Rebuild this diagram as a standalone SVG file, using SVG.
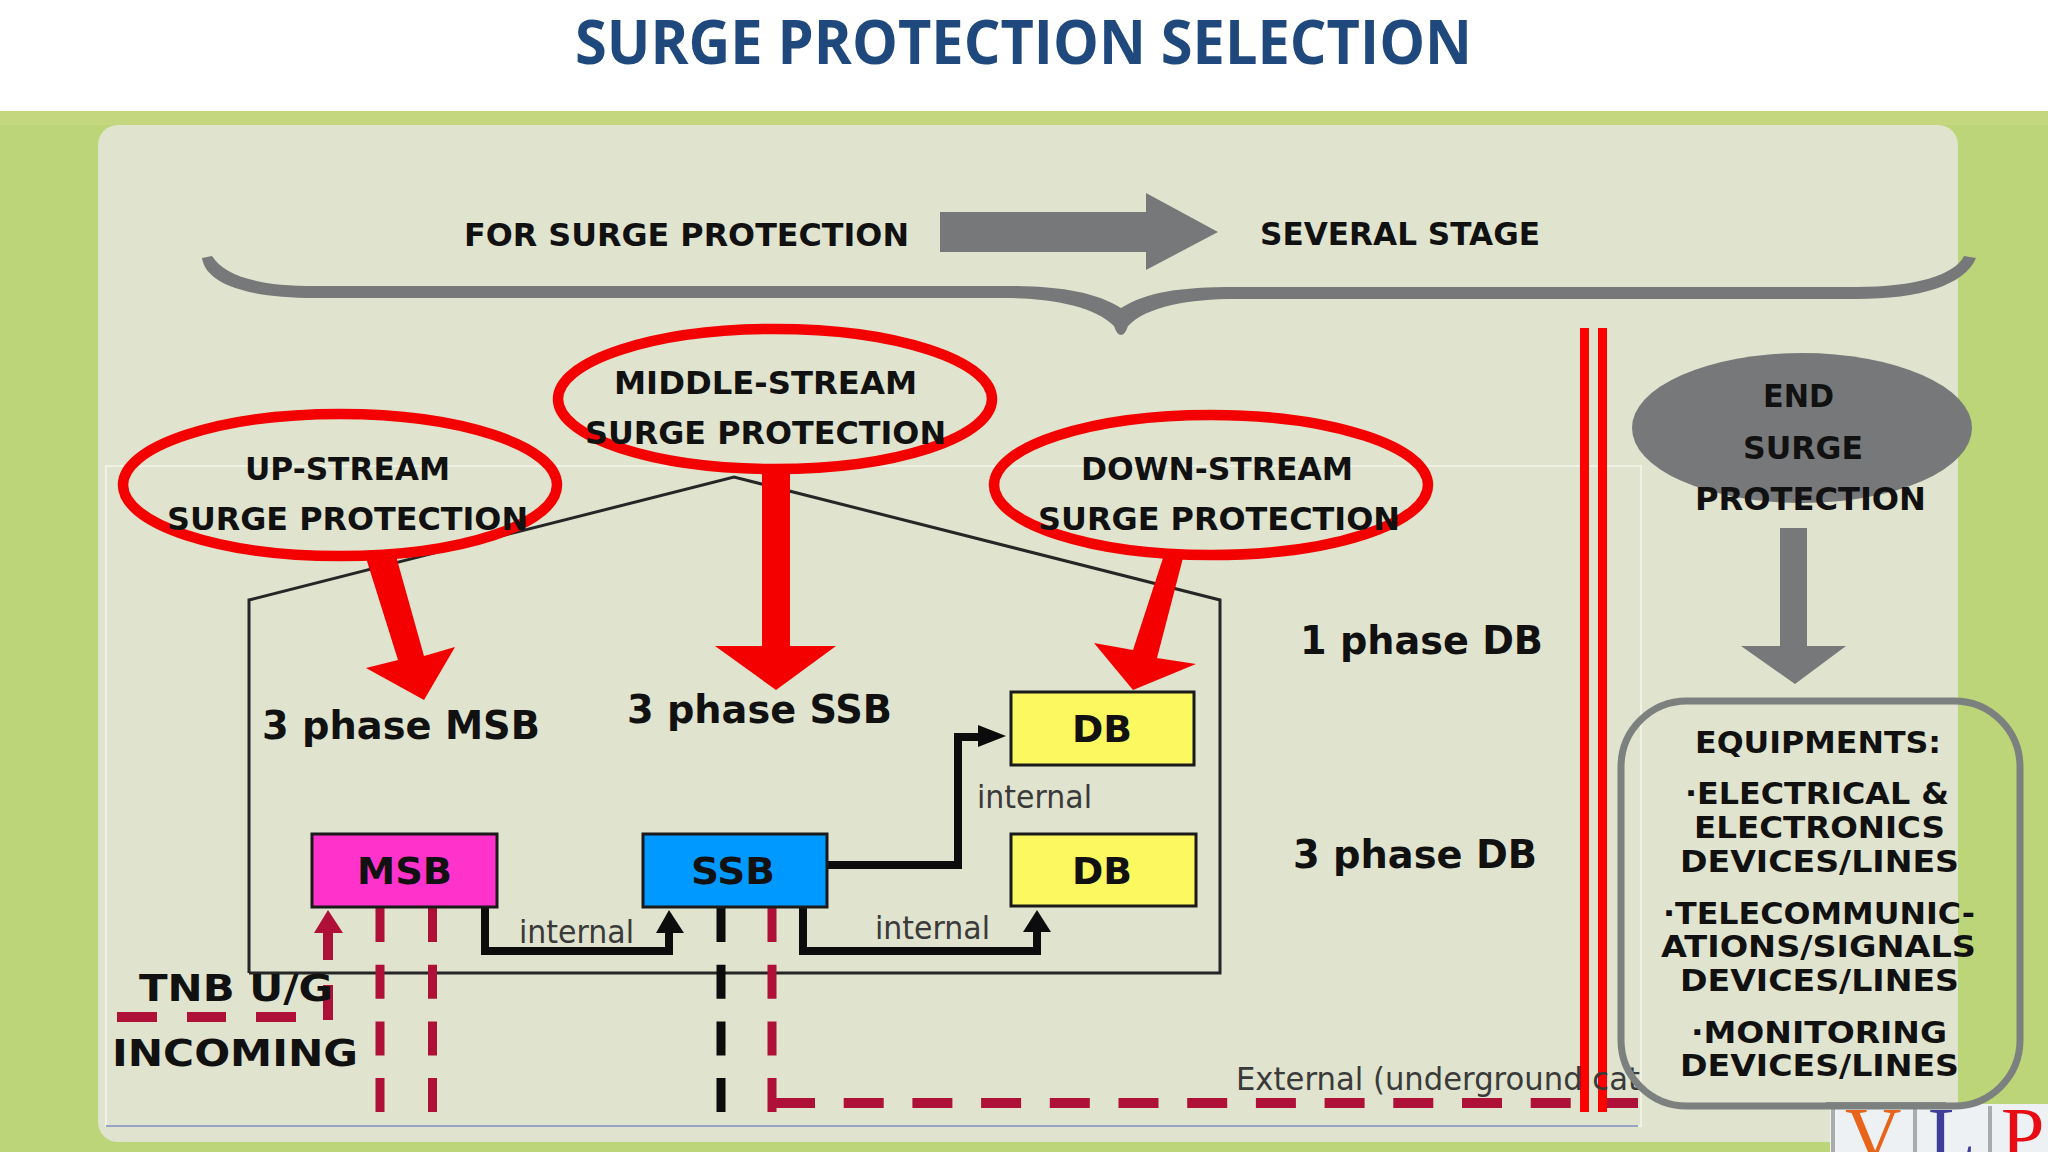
<svg xmlns="http://www.w3.org/2000/svg" width="2048" height="1152" viewBox="0 0 2048 1152">
<defs>
<style>
text{font-family:"DejaVu Sans","Liberation Sans",sans-serif;fill:#111}
.b{font-weight:700}
.h{font-size:32px}
.p{font-size:39px}
.n{font-size:37px}
.e{font-size:31px}
.i{font-size:32px;fill:#3a3a3a}
.ring{fill:none;stroke:#f40000;stroke-width:10.500}
.red{fill:#f40000}
.gray{fill:#77787a}
.box{stroke:#1a1a1a;stroke-width:3}
.red-dash{fill:none;stroke:#ae1038;stroke-width:10}
.blk-dash{fill:none;stroke:#0c0c0c;stroke-width:9}
.v{stroke-dasharray:34 22.7;stroke-width:9}
.hz{stroke-dasharray:40 28.7}
.wire{fill:none;stroke:#0c0c0c;stroke-width:8}
.logo{font-family:"Liberation Serif",serif;font-size:78px}
</style>
</defs>
<rect width="2048" height="1152" fill="#ffffff"/>
<rect y="111" width="2048" height="1041" fill="#bcd578"/>
<rect y="111" width="2048" height="14" fill="#c4d67e"/>
<rect x="98" y="125" width="1860" height="1017" rx="20" fill="#e0e3cd"/>
<rect x="106" y="466" width="1535" height="660" fill="none" stroke="#f1f2e6" stroke-width="2"/>
<line x1="106" y1="1126" x2="1638" y2="1126" stroke="#93a6c4" stroke-width="2"/>

<g id="title"><text x="575" y="64" font-size="60" textLength="897" lengthAdjust="spacingAndGlyphs" style="font-family:'Open Sans',sans-serif;font-weight:700;fill:#1f497d">SURGE PROTECTION SELECTION</text></g>

<g id="header">
<text class="b h" x="464" y="246" textLength="445" lengthAdjust="spacingAndGlyphs">FOR SURGE PROTECTION</text>
<polygon class="gray" points="940,212 1146,212 1146,193 1218,232 1146,270 1146,252 940,252"/>
<text class="b h" x="1260" y="245" textLength="280" lengthAdjust="spacingAndGlyphs">SEVERAL STAGE</text>
<path class="gray" d="M202 258 L212 256 C224 275 255 286 315 286 L1005 286 C1060 286 1095 292 1121 308 C1147 292 1180 287 1235 287 L1856 287 C1915 287 1955 275 1964 256 L1976 258 C1965 285 1920 299 1856 299 L1235 299 C1190 299 1147 306 1128 326 Q1125 335 1121 335 Q1117 335 1114 326 C1095 306 1050 298 1005 298 L315 298 C250 298 206 285 202 258 Z"/>
</g>

<g id="building"><polyline points="249,973 249,600 734,477 1220,600 1220,973 249,973" fill="none" stroke="#262626" stroke-width="3"/></g>

<g id="connectors">
<path class="wire" d="M485 908 V951 H669 V930"/>
<polygon fill="#0c0c0c" points="669,910 684,933 656,933"/>
<path class="wire" d="M803 908 V951 H1037 V930"/>
<polygon fill="#0c0c0c" points="1037,910 1051,932 1023,932"/>
<path class="wire" d="M827 865 H958 V737 H982"/>
<polygon fill="#0c0c0c" points="1006,736 978,725 978,747"/>
<path class="red-dash v" d="M380 908 V1112"/>
<path class="red-dash v" d="M432.500 908 V1112"/>
<path class="blk-dash v" d="M721 908 V1112"/>
<path class="red-dash v" d="M772 908 V1112"/>
<path class="red-dash hz" d="M775 1103 H1638"/>
<path class="red-dash" d="M117 1017 H157 M187 1017 H226 M256 1017 H296"/>
<path class="red-dash" d="M328 1020 V985 M328 960 V930"/>
<polygon fill="#ae1038" points="328,910 343,933 314,933"/>
<polygon class="red" points="366,558 396,556 424,656 455,647 424,700 366,668 398,660"/>
<polygon class="red" points="762,470 790,470 790,646 836,646 776,690 715,646 762,646"/>
<polygon class="red" points="1163,558 1183,558 1157,658 1196,664 1133,690 1094,643 1133,650"/>
<polygon class="gray" points="1780,528 1807,528 1807,646 1846,646 1795,684 1741,646 1780,646"/>
<rect x="1580" y="328" width="9" height="784" fill="#ff0000"/>
<rect x="1598" y="328" width="9" height="784" fill="#ff0000"/>
</g>

<g id="node-up-stream">
<ellipse class="ring" cx="340" cy="485" rx="217" ry="71"/>
<text class="b h" x="245" y="480" textLength="205" lengthAdjust="spacingAndGlyphs">UP-STREAM</text>
<text class="b h" x="167" y="530" textLength="361" lengthAdjust="spacingAndGlyphs">SURGE PROTECTION</text>
</g>
<g id="node-middle-stream">
<ellipse class="ring" cx="775" cy="399" rx="217" ry="70"/>
<text class="b h" x="614" y="394" textLength="303" lengthAdjust="spacingAndGlyphs">MIDDLE-STREAM</text>
<text class="b h" x="585" y="444" textLength="361" lengthAdjust="spacingAndGlyphs">SURGE PROTECTION</text>
</g>
<g id="node-down-stream">
<ellipse class="ring" cx="1211" cy="485" rx="217" ry="70"/>
<text class="b h" x="1081" y="480" textLength="272" lengthAdjust="spacingAndGlyphs">DOWN-STREAM</text>
<text class="b h" x="1038" y="530" textLength="362" lengthAdjust="spacingAndGlyphs">SURGE PROTECTION</text>
</g>

<g id="labels">
<text class="b p" x="262" y="739" textLength="278" lengthAdjust="spacingAndGlyphs">3 phase MSB</text>
<text class="b p" x="627" y="723" textLength="265" lengthAdjust="spacingAndGlyphs">3 phase SSB</text>
<text class="b p" x="1300" y="654" textLength="243" lengthAdjust="spacingAndGlyphs">1 phase DB</text>
<text class="b p" x="1293" y="868" textLength="244" lengthAdjust="spacingAndGlyphs">3 phase DB</text>
<text class="i" x="519" y="943" textLength="115" lengthAdjust="spacingAndGlyphs">internal</text>
<text class="i" x="875" y="939" textLength="115" lengthAdjust="spacingAndGlyphs">internal</text>
<text class="i" x="977" y="808" textLength="115" lengthAdjust="spacingAndGlyphs">internal</text>
<text class="i" x="1236" y="1090" textLength="404" lengthAdjust="spacingAndGlyphs">External (underground cat</text>
<text class="b n" x="139" y="1001" textLength="194" lengthAdjust="spacingAndGlyphs">TNB U/G</text>
<text class="b n" x="112" y="1066" textLength="246" lengthAdjust="spacingAndGlyphs">INCOMING</text>
</g>

<g id="node-msb"><rect class="box" x="312" y="834" width="185" height="73" fill="#ff33cc"/><text class="b n" x="357" y="884" textLength="95" lengthAdjust="spacingAndGlyphs">MSB</text></g>
<g id="node-ssb"><rect class="box" x="643" y="834" width="184" height="73" fill="#0099ff"/><text class="b n" x="691" y="884" textLength="84" lengthAdjust="spacingAndGlyphs">SSB</text></g>
<g id="node-db-1"><rect class="box" x="1011" y="692" width="183" height="73" fill="#fbf860"/><text class="b n" x="1072" y="742" textLength="60" lengthAdjust="spacingAndGlyphs">DB</text></g>
<g id="node-db-3"><rect class="box" x="1011" y="834" width="185" height="72" fill="#fbf860"/><text class="b n" x="1072" y="884" textLength="60" lengthAdjust="spacingAndGlyphs">DB</text></g>

<g id="node-end">
<ellipse class="gray" cx="1802" cy="428" rx="170" ry="75"/>
<text class="b h" x="1763" y="407" textLength="71" lengthAdjust="spacingAndGlyphs">END</text>
<text class="b h" x="1743" y="459" textLength="120" lengthAdjust="spacingAndGlyphs">SURGE</text>
<text class="b h" x="1695" y="510" textLength="231" lengthAdjust="spacingAndGlyphs">PROTECTION</text>
</g>

<g id="logo">
<rect x="1830" y="1104" width="218" height="48" fill="#eef1f3"/>
<rect x="1826" y="1102" width="120" height="6" fill="#8a8d88"/>
<path d="M1833 1106 V1152 M1915 1106 V1152 M1990 1106 V1152" stroke="#a9acab" stroke-width="4" fill="none"/>
<text class="logo" x="1845" y="1161" style="fill:#e8641b">V</text>
<text class="logo" x="1928" y="1161" style="fill:#3d3d9a">L</text>
<text class="logo" x="2001" y="1161" style="fill:#e80c14">P</text>
</g>

<g id="node-equipments">
<rect x="1621" y="701" width="399" height="405" rx="66" fill="none" stroke="#7c8180" stroke-width="7"/>
<text class="b e" x="1695" y="753" textLength="246" lengthAdjust="spacingAndGlyphs">EQUIPMENTS:</text>
<text class="b e" x="1685" y="804" textLength="264" lengthAdjust="spacingAndGlyphs">·ELECTRICAL &amp;</text>
<text class="b e" x="1694" y="838" textLength="251" lengthAdjust="spacingAndGlyphs">ELECTRONICS</text>
<text class="b e" x="1680" y="872" textLength="279" lengthAdjust="spacingAndGlyphs">DEVICES/LINES</text>
<text class="b e" x="1663" y="924" textLength="312" lengthAdjust="spacingAndGlyphs">·TELECOMMUNIC-</text>
<text class="b e" x="1661" y="957" textLength="315" lengthAdjust="spacingAndGlyphs">ATIONS/SIGNALS</text>
<text class="b e" x="1680" y="991" textLength="279" lengthAdjust="spacingAndGlyphs">DEVICES/LINES</text>
<text class="b e" x="1691" y="1043" textLength="256" lengthAdjust="spacingAndGlyphs">·MONITORING</text>
<text class="b e" x="1680" y="1076" textLength="279" lengthAdjust="spacingAndGlyphs">DEVICES/LINES</text>
</g>
</svg>
